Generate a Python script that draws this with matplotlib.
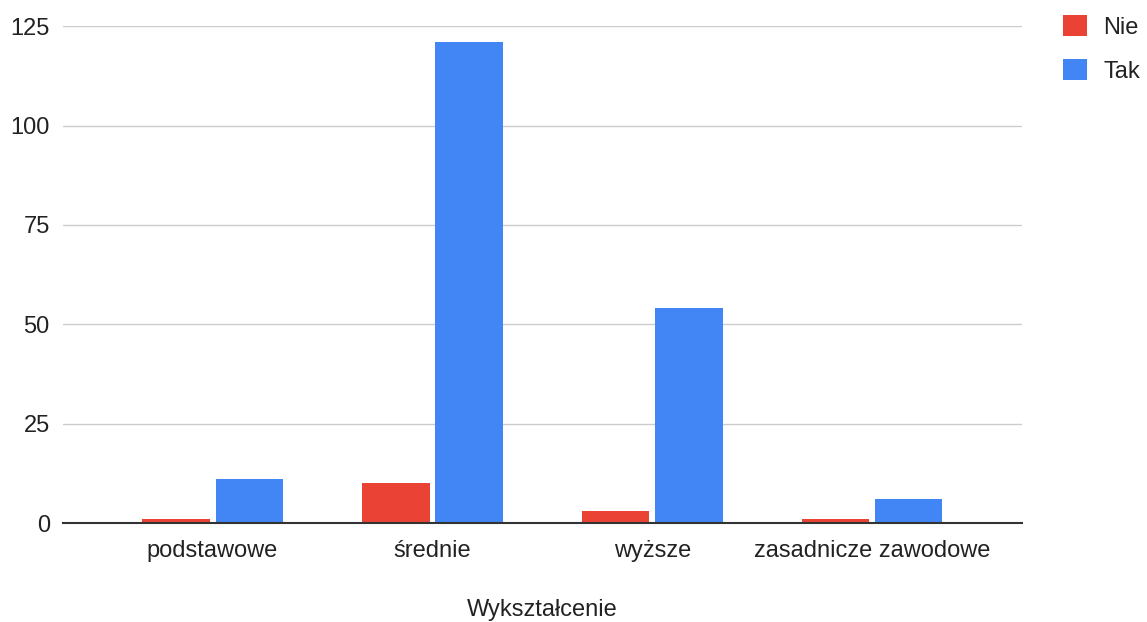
import numpy as np
import matplotlib.pyplot as plt
from matplotlib.patches import Patch

plt.rcParams['font.family'] = ['Liberation Sans', 'DejaVu Sans']

# Data
categories = ["podstawowe", "średnie", "wyższe", "zasadnicze zawodowe"]
nie = [1, 10, 3, 1]
tak = [11, 121, 54, 6]
series_names = ["Nie", "Tak"]

red = '#EA4335'
blue = '#4285F4'
text_col = '#222222'

fig = plt.figure(figsize=(11.47, 6.22), dpi=100)
ax = fig.add_axes([0.0549, 0.159, 0.8361, 0.799])

x = np.arange(len(categories))
w = 0.305
off = 0.166
ax.bar(x - off, nie, width=w, color=red, zorder=3)
ax.bar(x + off, tak, width=w, color=blue, zorder=3)

ax.set_xlim(-0.68, 3.68)
ax.set_ylim(0, 125)
ax.set_yticks([0, 25, 50, 75, 100, 125])
ax.set_xticks(x)
ax.set_xticklabels(categories)
ax.tick_params(axis='both', length=0, labelsize=17, colors=text_col)
ax.tick_params(axis='y', pad=9.5)
ax.tick_params(axis='x', pad=12)

ax.grid(axis='y', color='#cccccc', linewidth=1, zorder=0)
for s in ['top', 'right', 'left']:
    ax.spines[s].set_visible(False)
ax.spines['bottom'].set_color('#333333')
ax.spines['bottom'].set_linewidth(1.5)
ax.spines['bottom'].set_zorder(4)

ax.set_xlabel("Wykształcenie", fontsize=17, color=text_col, labelpad=27)

handles = [Patch(facecolor=red), Patch(facecolor=blue)]
fig.legend(handles, series_names, loc='upper left',
           bbox_to_anchor=(1042 / 1147, 1 + 6 / 622),
           frameon=False, fontsize=17, handlelength=1.0, handleheight=1.0,
           handletextpad=0.7, labelspacing=0.85, labelcolor=text_col)

fig.savefig("out.png", dpi=100)
